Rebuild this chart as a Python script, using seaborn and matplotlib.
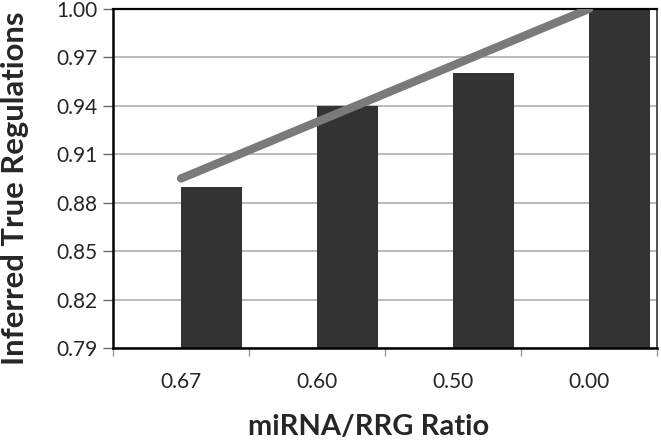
import numpy as np
import pandas as pd
import matplotlib
matplotlib.use("Agg")
import matplotlib.pyplot as plt
import seaborn as sns

# data
ratios = ["0.67", "0.60", "0.50", "0.00"]
inferred_true = [0.89, 0.94, 0.96, 1.00]
trend_ends = [0.895, 1.00]          # linear trend line, first and last category
y_ticks = [0.79, 0.82, 0.85, 0.88, 0.91, 0.94, 0.97, 1.00]

sns.set_style("white")
plt.rcParams["font.family"] = ["Lato", "DejaVu Sans"]

df = pd.DataFrame({"ratio": ratios, "value": inferred_true})

fig = plt.figure(figsize=(6.61, 4.44), dpi=100)
ax = fig.add_axes([0.171, 0.216, 0.823, 0.764])

sns.barplot(data=df, x="ratio", y="value", order=ratios, color="#333333",
            width=0.45, saturation=1, ax=ax, zorder=2)
# bars sit to the right of the category centre (second slot of an Excel group)
for p in ax.patches:
    p.set_x(p.get_x() + p.get_width() / 2)
    p.set_edgecolor("none")

ax.plot([0, len(ratios) - 1], trend_ends, color="#7a7a7a", lw=6,
        solid_capstyle="round", zorder=3)

ax.set_xlim(-0.5, len(ratios) - 0.5)
ax.set_ylim(y_ticks[0], y_ticks[-1])
ax.set_yticks(y_ticks)
ax.set_yticklabels([f"{t:.2f}" for t in y_ticks])
ax.yaxis.grid(True, color="#b5b5b5", lw=1.3, zorder=0)
ax.set_axisbelow(True)

# ticks between categories, labels at the centres
ax.set_xticks(np.arange(len(ratios)))
ax.set_xticklabels(ratios)
ax.set_xticks(np.arange(len(ratios) + 1) - 0.5, minor=True)
ax.tick_params(axis="x", which="major", length=0, pad=17, labelsize=15)
ax.tick_params(axis="x", which="minor", length=6, width=1, color="#999999",
               direction="out", bottom=True)
ax.tick_params(axis="y", length=7, width=1, color="#666666", direction="out",
               left=True, pad=4, labelsize=15)

for side in ["left", "bottom", "top", "right"]:
    ax.spines[side].set_visible(True)
    ax.spines[side].set_color("black")
ax.spines["left"].set_linewidth(1.8)
ax.spines["bottom"].set_linewidth(1.8)
ax.spines["top"].set_linewidth(1.6)
ax.spines["right"].set_linewidth(1.2)
ax.spines["right"].set_color("#333333")

ax.set_xlabel("miRNA/RRG Ratio", fontsize=21, fontweight="bold")
ax.set_ylabel("Inferred True Regulations", fontsize=22.3, fontweight="bold")
ax.xaxis.set_label_coords(0.4706, -0.195)
ax.yaxis.set_label_coords(-0.154, 0.4705)

fig.savefig("out.png", dpi=100)
